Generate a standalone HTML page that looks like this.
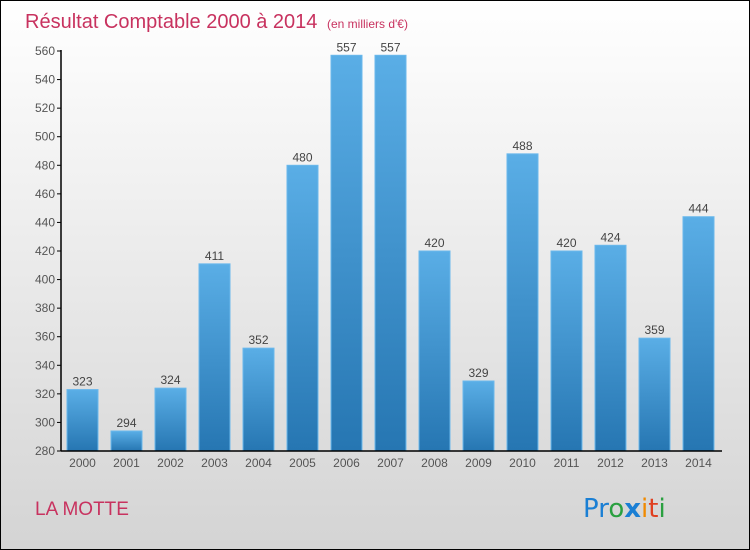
<!DOCTYPE html>
<html><head><meta charset="utf-8"><style>
body{margin:0}
#c{width:748px;height:548px;border:1px solid #000;background:linear-gradient(#fff,#d4d4d4);position:relative;font-family:"Liberation Sans",sans-serif;overflow:hidden}
</style></head><body>
<div id="c">
<svg id="s" width="748" height="548" xmlns="http://www.w3.org/2000/svg">
<defs><linearGradient id="g" x1="0" y1="0" x2="0" y2="1"><stop offset="0" stop-color="#5aaee6"/><stop offset="1" stop-color="#2676b2"/></linearGradient></defs>
<text x="24" y="27" font-size="20" fill="#c8325f">Résultat Comptable 2000 à 2014 <tspan font-size="12" dx="4">(en milliers d'€)</tspan></text>
<text x="34" y="514" font-size="19" fill="#c8325f">LA MOTTE</text>
<g font-size="26" font-family="'DejaVu Sans',sans-serif">
<text x="582" y="516"><tspan fill="#1a7fd4">Pr</tspan><tspan fill="#2aa040">o</tspan><tspan fill="#1a7fd4" font-weight="bold">x</tspan><tspan fill="#f08a00">i</tspan><tspan fill="#e04020">t</tspan><tspan fill="#2aa040">i</tspan></text></g>
<g id="plot"></g>
</svg></div>
<script>
const years=["2000","2001","2002","2003","2004","2005","2006","2007","2008","2009","2010","2011","2012","2013","2014"];
const values=[323,294,324,411,352,480,557,557,420,329,488,420,424,359,444];
const ticks=[280,300,320,340,360,380,400,420,440,460,480,500,520,540,560];
const NS="http://www.w3.org/2000/svg",p=document.getElementById('plot');
const y=v=>450-(v-280)*400/280, bx=i=>60+i*44;
function mk(t,a,txt){const e=document.createElementNS(NS,t);for(const k in a)e.setAttribute(k,a[k]);if(txt!==undefined)e.textContent=txt;p.appendChild(e);return e;}
ticks.forEach(t=>{
const l=mk('line',{x1:56,x2:60,y1:y(t),y2:y(t),stroke:'#000'});


const tx=mk('text',{x:54,y:y(t)+4,'text-anchor':'end','font-size':12,fill:'#555'},t);


});
values.forEach((v,i)=>{
const r=mk('rect',{x:bx(i)+6,y:y(v),width:31,height:450-y(v),fill:'url(#g)',stroke:'#6ab8ec','stroke-width':1});


const vl=mk('text',{x:bx(i)+21.5,y:y(v)-4,'text-anchor':'middle','font-size':12,fill:'#444'},v);


const xl=mk('text',{x:bx(i)+21.5,y:466,'text-anchor':'middle','font-size':12,fill:'#555'},years[i]);


});
const ya=mk('line',{x1:60,x2:60,y1:49,y2:450,stroke:'#000','stroke-width':1.5});


const xa=mk('line',{x1:60,x2:721,y1:450,y2:450,stroke:'#000','stroke-width':1.5});


</script>
</body></html>
